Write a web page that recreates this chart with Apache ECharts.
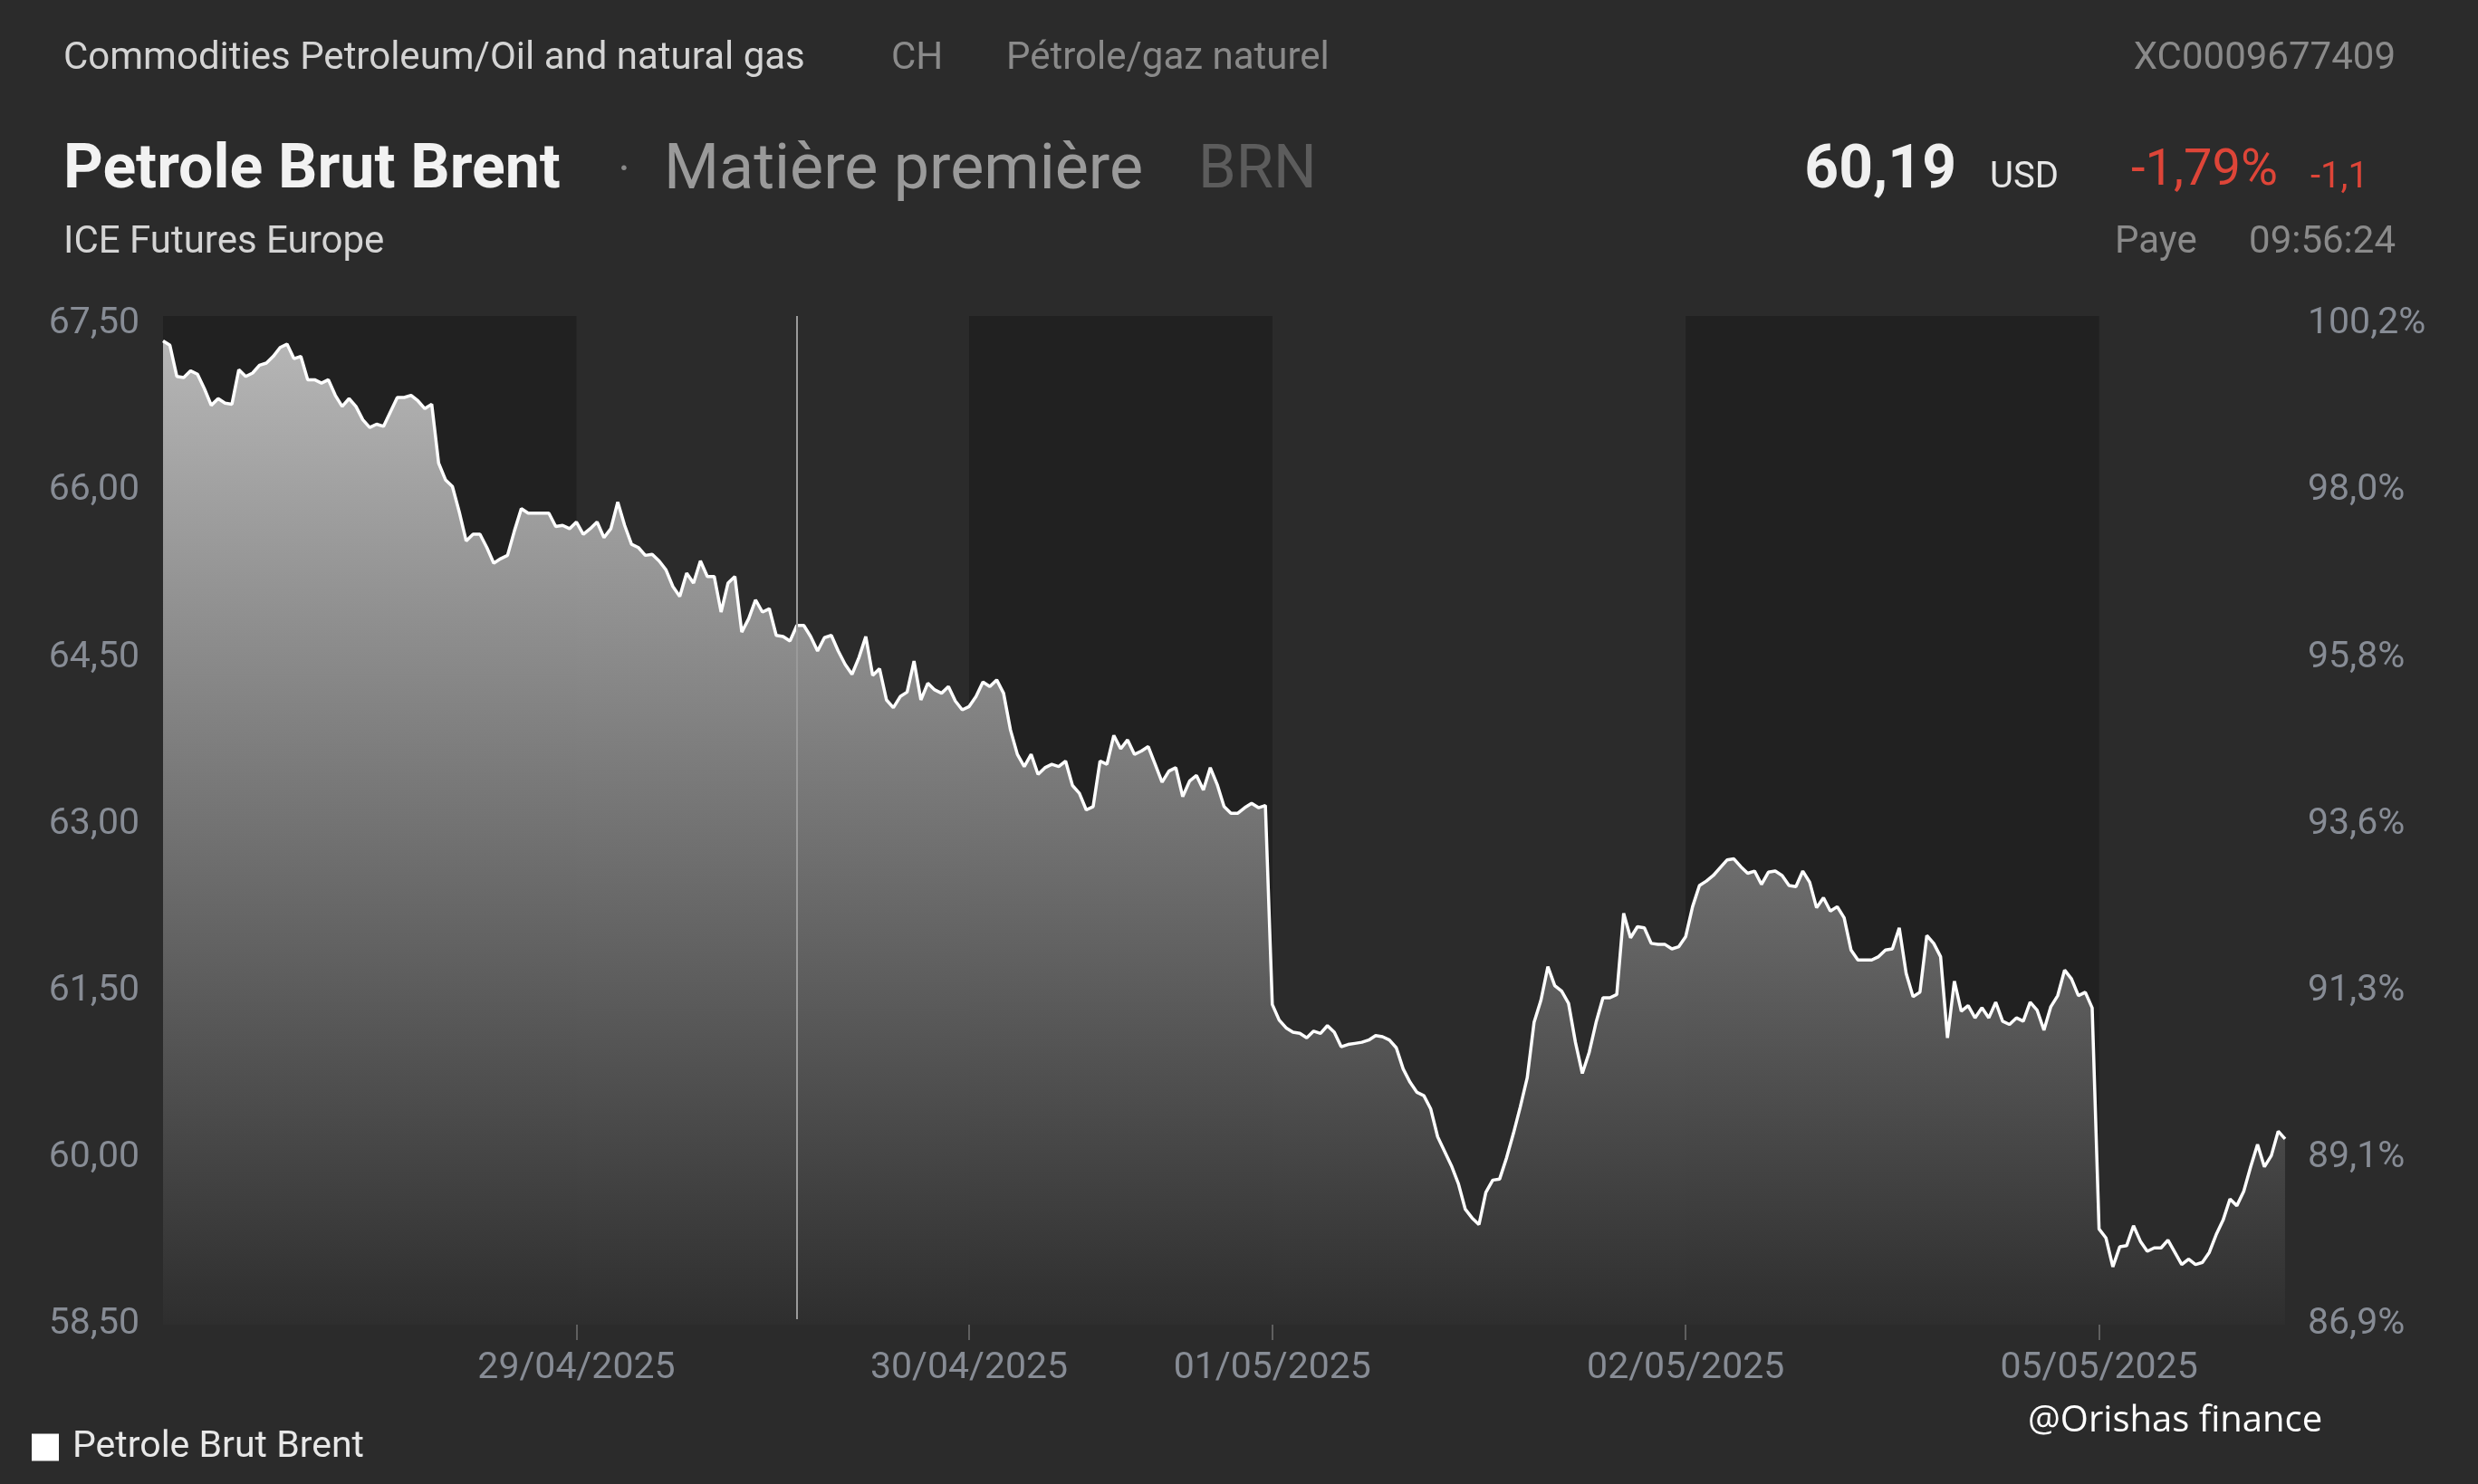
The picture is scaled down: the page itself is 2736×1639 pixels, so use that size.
<!DOCTYPE html>
<html>
<head>
<meta charset="utf-8">
<script src="https://cdn.jsdelivr.net/npm/echarts@6/dist/echarts.min.js"></script>
<style>
html,body{margin:0;padding:0;background:#2b2b2b;}
#chart{width:2736px;height:1639px;}
</style>
</head>
<body>
<div id="chart"></div>
<script>
// ---- data ----
const dayLabels = ['28/04/2025', '29/04/2025', '30/04/2025', '01/05/2025', '02/05/2025', '05/05/2025'];

const price_28_04 = [67.35, 67.31, 67.03, 67.02, 67.08, 67.05, 66.92, 66.77, 66.83, 66.79,
  66.78, 67.09, 67.03, 67.06, 67.13, 67.15, 67.21, 67.29, 67.32, 67.19,
  67.21, 67.00, 67.00, 66.97, 67.00, 66.86, 66.76, 66.83, 66.76, 66.64,
  66.57, 66.60, 66.58, 66.71, 66.84, 66.84, 66.86, 66.81, 66.74, 66.78,
  66.25, 66.10, 66.04, 65.81, 65.55, 65.61, 65.61, 65.49, 65.35, 65.39,
  65.42, 65.64, 65.84, 65.80, 65.80, 65.80, 65.80, 65.68, 65.69, 65.66];

const price_29_04 = [65.72, 65.61, 65.66, 65.72, 65.58, 65.66, 65.90, 65.69, 65.52, 65.49,
  65.42, 65.43, 65.37, 65.29, 65.14, 65.05, 65.26, 65.17, 65.37, 65.23,
  65.23, 64.91, 65.17, 65.23, 64.73, 64.85, 65.02, 64.91, 64.94, 64.70,
  64.69, 64.65, 64.79, 64.79, 64.69, 64.56, 64.68, 64.70, 64.56, 64.44,
  64.35, 64.50, 64.69, 64.34, 64.40, 64.12, 64.05, 64.15, 64.19, 64.47,
  64.12, 64.27, 64.21, 64.18, 64.24, 64.11, 64.03];

const price_30_04 = [64.06, 64.15, 64.28, 64.24, 64.30, 64.18, 63.85, 63.63, 63.52, 63.63,
  63.45, 63.51, 63.54, 63.52, 63.57, 63.35, 63.28, 63.13, 63.16, 63.57,
  63.54, 63.80, 63.68, 63.76, 63.63, 63.66, 63.70, 63.54, 63.38, 63.48,
  63.51, 63.25, 63.39, 63.44, 63.31, 63.51, 63.36, 63.16, 63.10, 63.10,
  63.15, 63.19, 63.15, 63.17];

const price_01_05 = [61.38, 61.24, 61.17, 61.13, 61.12, 61.08, 61.14, 61.12, 61.19, 61.13,
  61.00, 61.02, 61.03, 61.04, 61.06, 61.10, 61.09, 61.06, 60.99, 60.80,
  60.68, 60.59, 60.56, 60.44, 60.19, 60.06, 59.93, 59.77, 59.54, 59.46,
  59.40, 59.69, 59.80, 59.81, 60.00, 60.22, 60.46, 60.72, 61.22, 61.42,
  61.72, 61.55, 61.50, 61.39, 61.04, 60.76, 60.95, 61.22, 61.44, 61.44,
  61.47, 62.20, 61.98, 62.08, 62.07, 61.93, 61.92, 61.92, 61.88, 61.90];

const price_02_05 = [61.99, 62.26, 62.45, 62.49, 62.54, 62.61, 62.68, 62.69, 62.62, 62.56,
  62.58, 62.46, 62.57, 62.58, 62.54, 62.45, 62.44, 62.58, 62.48, 62.25,
  62.34, 62.22, 62.26, 62.16, 61.87, 61.78, 61.78, 61.78, 61.81, 61.87,
  61.88, 62.07, 61.66, 61.45, 61.49, 62.00, 61.93, 61.81, 61.08, 61.59,
  61.32, 61.37, 61.26, 61.35, 61.26, 61.40, 61.23, 61.20, 61.26, 61.23,
  61.40, 61.33, 61.15, 61.36, 61.46, 61.69, 61.61, 61.46, 61.49, 61.35];

const price_05_05 = [59.36, 59.28, 59.02, 59.20, 59.21, 59.39, 59.25, 59.16, 59.19, 59.19,
  59.26, 59.15, 59.04, 59.09, 59.04, 59.06, 59.15, 59.31, 59.44, 59.63,
  59.57, 59.70, 59.92, 60.12, 59.92, 60.02, 60.24, 60.17];

const dailyPrices = [price_28_04, price_29_04, price_30_04, price_01_05, price_02_05, price_05_05];
const darkSessions = ['28/04/2025', '30/04/2025', '02/05/2025'];
const rightTickLabels = ['86,9%', '89,1%', '91,3%', '93,6%', '95,8%', '98,0%', '100,2%'];
const markerSample = '29/04/2025#32';

// ---- build categories ----
const categories = [];
const values = [];
const dayStart = {};
const dayEnd = {};
dailyPrices.forEach((arr, d) => {
  dayStart[dayLabels[d]] = categories.length;
  arr.forEach((v, j) => {
    categories.push(j === 0 ? dayLabels[d] : dayLabels[d] + '#' + j);
    values.push(v);
  });
});
dailyPrices.forEach((arr, d) => {
  dayEnd[dayLabels[d]] = d + 1 < dayLabels.length ? categories[dayStart[dayLabels[d + 1]]] : categories[categories.length - 1];
});
const isDayTick = (idx, val) => idx > 0 && val.indexOf('#') < 0;

const labelColor = '#878c95';
const font = 'Roboto';

const chart = echarts.init(document.getElementById('chart'), null, {renderer: 'canvas'});

function txt(x, y, text, size, color, opts) {
  opts = opts || {};
  return {
    type: 'text', x: x, y: y, silent: true,
    style: {
      text: text,
      font: (opts.weight || 'normal') + ' ' + size + 'px ' + (opts.family || font),
      fill: color,
      align: opts.align || 'left',
      verticalAlign: 'middle',
      textAlign: opts.align || 'left',
      textVerticalAlign: 'middle'
    }
  };
}

const option = {
  backgroundColor: '#2b2b2b',
  animation: false,
  grid: [
    {left: 180, right: 213, top: 358, bottom: 176},
    {left: 180, right: 213, top: 349, bottom: 207},
    {left: 180, right: 213, top: 349, bottom: 182}
  ],
  legend: {
    left: 30, top: 1573,
    itemWidth: 30, itemHeight: 30, icon: 'rect',
    textStyle: {color: '#e8e8e8', fontSize: 41, fontFamily: font, padding: [0, 0, 0, 10]},
    data: ['Petrole Brut Brent']
  },
  xAxis: [
    {
      type: 'category', gridIndex: 0,
      data: categories,
      boundaryGap: false,
      axisLine: {show: false},
      axisTick: {show: true, interval: isDayTick, length: 17, lineStyle: {color: '#5f5f5f', width: 2}},
      axisLabel: {interval: isDayTick, color: labelColor, fontSize: 41, fontFamily: font, margin: 26,
        padding: [2, 0, 0, 0], formatter: v => v.split('#')[0]},
      splitLine: {show: false}
    },
    {type: 'category', gridIndex: 1, data: categories, boundaryGap: false, show: false},
    {type: 'category', gridIndex: 2, data: categories, boundaryGap: false, show: false}
  ],
  yAxis: [
    {
      type: 'value', gridIndex: 0, min: 58.5, max: 67.5, interval: 1.5, position: 'left',
      axisLine: {show: false}, axisTick: {show: false}, splitLine: {show: false},
      axisLabel: {color: labelColor, fontSize: 41, fontFamily: font, margin: 26, padding: [13, 0, 0, 0],
        formatter: v => v.toFixed(2).replace('.', ',')}
    },
    {
      type: 'value', gridIndex: 0, min: 58.5, max: 67.5, interval: 1.5, position: 'right',
      axisLine: {show: false}, axisTick: {show: false}, splitLine: {show: false},
      axisLabel: {color: labelColor, fontSize: 41, fontFamily: font, margin: 25, padding: [13, 0, 0, 0],
        formatter: v => rightTickLabels[Math.round((v - 58.5) / 1.5)]}
    },
    {type: 'value', gridIndex: 1, min: 0, max: 1, show: false},
    {type: 'value', gridIndex: 2, min: 0, max: 1, show: false}
  ],
  series: [
    {
      name: 'sessions', type: 'line', data: [], z: 1, silent: true,
      xAxisIndex: 1, yAxisIndex: 2,
      markArea: {
        silent: true,
        itemStyle: {color: '#212121'},
        data: darkSessions.map(d => [{xAxis: d}, {xAxis: dayEnd[d]}])
      }
    },
    {
      name: 'Petrole Brut Brent', type: 'line', data: values, z: 2,
      xAxisIndex: 0, yAxisIndex: 0,
      showSymbol: false, symbol: 'none',
      itemStyle: {color: '#ffffff'},
      lineStyle: {color: '#ffffff', width: 3.5},
      areaStyle: {
        opacity: 0.96,
        color: {type: 'linear', x: 0, y: 0, x2: 0, y2: 1,
          colorStops: [{offset: 0, color: '#bcbcbc'}, {offset: 1, color: '#2e2e2e'}]}
      }
    },
    {
      name: 'marker', type: 'line', data: [], z: 3, silent: true,
      xAxisIndex: 2, yAxisIndex: 3,
      markLine: {
        silent: true, symbol: 'none', label: {show: false},
        lineStyle: {color: '#9a9a9a', width: 2, type: 'solid'},
        data: [{xAxis: markerSample}]
      }
    }
  ],
  graphic: [
    txt(70, 65, 'Commodities Petroleum/Oil and natural gas', 42, '#d4d4d4'),
    txt(984, 65, 'CH', 42, '#8a8a8a'),
    txt(1111, 65, 'Pétrole/gaz naturel', 42, '#8a8a8a'),
    txt(2645, 65, 'XC0009677409', 42, '#8a8a8a', {align: 'right'}),
    txt(70, 190, 'Petrole Brut Brent', 68, '#f2f2f2', {weight: 'bold'}),
    txt(689, 190, '·', 50, '#8a8a8a', {align: 'center'}),
    txt(733, 190, 'Matière première', 70, '#9a9a9a'),
    txt(1323, 190, 'BRN', 67, '#5c5c5c'),
    txt(70, 268, 'ICE Futures Europe', 42, '#d4d4d4'),
    txt(2160, 190, '60,19', 66, '#f0f0f0', {align: 'right', weight: 'bold'}),
    txt(2197, 197, 'USD', 40, '#e6e6e6'),
    txt(2515, 190, '-1,79%', 56, '#de4538', {align: 'right'}),
    txt(2551, 197, '-1,1', 40, '#de4538'),
    txt(2335, 268, 'Paye', 42, '#8a8a8a'),
    txt(2645, 268, '09:56:24', 42, '#8a8a8a', {align: 'right'}),
    txt(2239, 1570, '@Orishas finance', 40, '#ffffff', {family: 'Open Sans'})
  ]
};
chart.setOption(option);
</script>
</body>
</html>
